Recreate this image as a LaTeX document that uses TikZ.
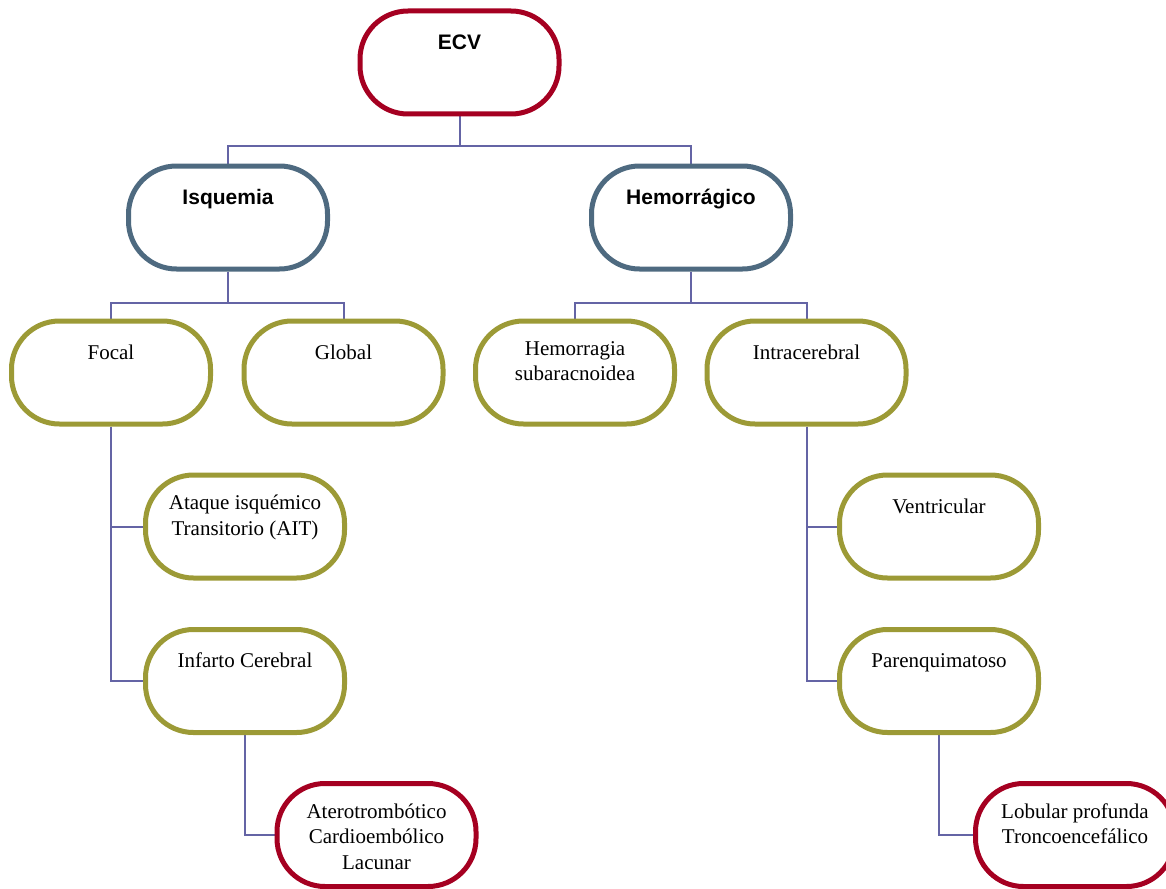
\documentclass[tikz,border=0pt]{standalone}
\usepackage{fontspec}
\setmainfont{Liberation Serif}
\setsansfont{Liberation Sans}
\usetikzlibrary{positioning,calc,backgrounds}
\definecolor{ecvred}{RGB}{165,0,33}
\definecolor{slateblue}{RGB}{78,106,128}
\definecolor{leafolive}{RGB}{156,154,54}
\definecolor{linkviolet}{RGB}{100,100,165}
\tikzset{%
  every box/.style={draw,fill=white,line width=5pt,rounded corners=48pt,minimum width=199pt,minimum height=103pt},
  box text/.style={anchor=north,align=center,inner sep=0pt,execute at begin node=\strut,font=\fontsize{21}{25.5}\selectfont},
}

\begin{document}
\begin{tikzpicture}[
            x=1pt,y=-1pt,
            rootbox/.style={every box,draw=ecvred},
            typebox/.style={every box,draw=slateblue},
            subbox/.style={every box,draw=leafolive},
            leafbox/.style={every box,draw=ecvred},
            head text/.style={box text,font=\sffamily\bfseries\fontsize{21}{25.5}\selectfont},
            link/.style={draw=linkviolet,line width=2pt}
            ]
            \useasboundingbox (0,0) rectangle (1166,888);

            \node[rootbox] (ecv) at (459.5,62.5) {};
            \node[typebox] (isq) at (228,217.5) {};
            \node[typebox] (hem) at (691,217.5) {};
            \node[subbox]  (focal) at (111,372.5) {};
            \node[subbox]  (global) at (343.5,372.5) {};
            \node[subbox]  (sub) at (575,372.5) {};
            \node[subbox]  (intra) at (806.5,372.5) {};
            \node[subbox]  (ait) at (245,526.5) {};
            \node[subbox]  (inf) at (245,681) {};
            \node[subbox]  (vent) at (939,526.5) {};
            \node[subbox]  (par) at (939,681) {};
            \node[leafbox] (atero) at (376.5,835) {};
            \node[leafbox] (lob) at (1075,835) {};

            \foreach \n/\t in {ecv/ECV,isq/Isquemia,hem/Hemorrágico}
              \node[head text] (\n-t) at ([yshift=-22.5pt]\n.north) {\t};
            \foreach \n/\t in {focal/Focal,global/Global,sub/{Hemorragia\\subaracnoidea},intra/Intracerebral,
                               ait/{Ataque isquémico\\Transitorio (AIT)},inf/Infarto Cerebral,
                               vent/Ventricular,par/Parenquimatoso,
                               atero/{Aterotrombótico\\Cardioembólico\\Lacunar},lob/{Lobular profunda\\Troncoencefálico}}
              \node[box text] (\n-t) at ([yshift=-22.5pt]\n.north) {\t};

            \begin{scope}[on background layer]
            \foreach \a/\b in {isq/hem}
            {
                \draw[link] (ecv.south) -- ++(0,29) -| (\a.north);
                \draw[link] (ecv.south) -- ++(0,29) -| (\b.north);
            }
            \foreach \b in {focal,global}
                \draw[link] (isq.south) -- ++(0,31) -| (\b.north);
            \foreach \b in {sub,intra}
                \draw[link] (hem.south) -- ++(0,31) -| (\b.north);
            \foreach \a/\b in {focal/ait,focal/inf,inf/atero,intra/vent,intra/par,par/lob}
                \draw[link] (\a.south) |- (\b.west);
            \end{scope}
        \end{tikzpicture}
\end{document}
